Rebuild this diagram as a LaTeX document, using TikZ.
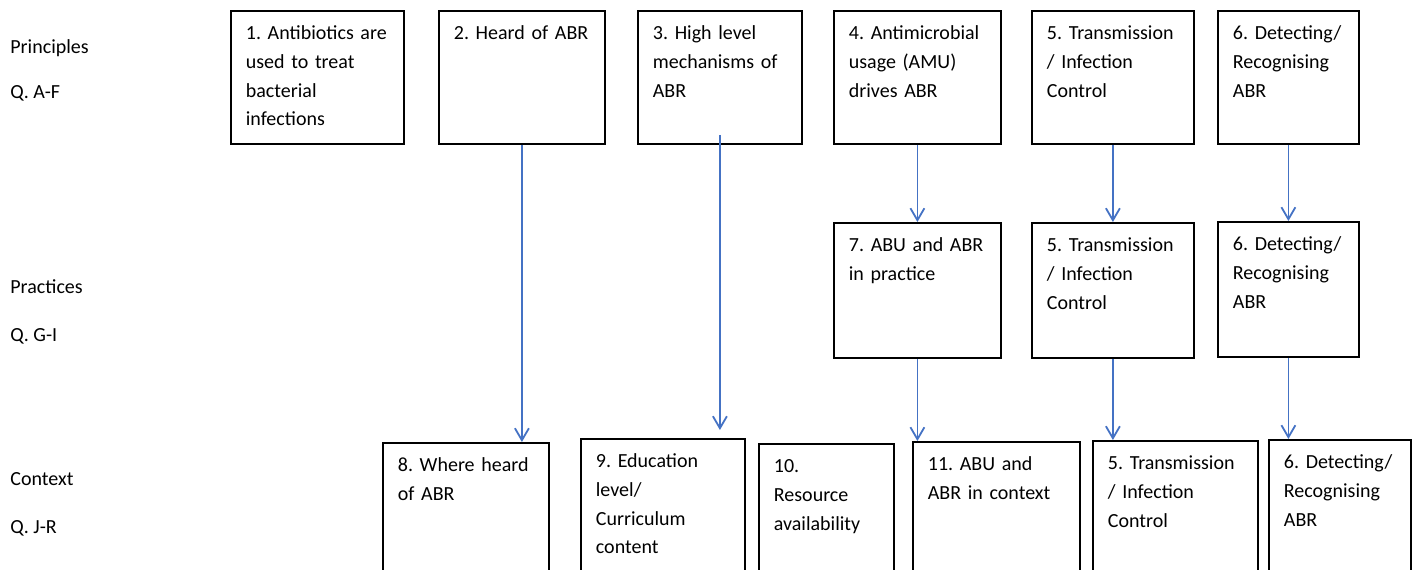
\documentclass[tikz,border=0pt]{standalone}
\usepackage{fontspec}
\setmainfont{Carlito}
\usetikzlibrary{arrows.meta}
\definecolor{linkblue}{RGB}{68,114,196}
\tikzset{
  box/.style={draw, line width=0.9pt, anchor=north west, align=left,
    inner xsep=7.5pt, inner ysep=8pt, text height=6.5pt,
    font=\fontsize{10}{14.3}\selectfont,
    execute at begin node={\frenchspacing\hyphenpenalty=10000
      \rightskip=0pt plus 1fil minus 20pt}},
  rowa/.style={box, text depth=44pt},
  rowb/.style={box, text depth=45pt},
  rowc/.style={box, text depth=60pt},
  rowlabel/.style={anchor=base west, inner sep=0pt, font=\fontsize{10}{12}\selectfont},
  link/.style={linkblue, line width=0.9pt, -{Straight Barb[length=6pt,width=7pt]}}
}
\begin{document}
\begin{tikzpicture}[x=0.5pt, y=-0.5pt]
  \clip (0,0) rectangle (1416,569);
  % row labels
  \node[rowlabel] (lp1) at (10,53) {Principles};
  \node[rowlabel] (lq1) at (10,98) {Q. A-F};
  \node[rowlabel] (lp2) at (10,293) {Practices};
  \node[rowlabel] (lq2) at (10,341) {Q. G-I};
  \node[rowlabel] (lp3) at (10,485) {Context};
  \node[rowlabel] (lq3) at (10,533) {Q. J-R};

  % principles
  \node[rowa, text width=71.5pt] (b1) at (230,10) {1. Antibiotics are\\used to treat\\bacterial\\infections};
  \node[rowa, text width=68pt] (b2) at (438,10) {2. Heard of ABR};
  \node[rowa, text width=67pt] (b3) at (637,10) {3. High level\\mechanisms of\\ABR};
  \node[rowa, text width=68.5pt] (b4) at (833,10) {4. Antimicrobial\\usage (AMU)\\drives ABR};
  \node[rowa, text width=66pt] (b5) at (1031,10) {5. Transmission\\/ Infection\\Control};
  \node[rowa, text width=55.5pt] (b6) at (1217,10) {6. Detecting/\\Recognising\\ABR};

  % practices
  \node[rowb, text width=68.5pt] (b7) at (833,222) {7. ABU and ABR\\in practice};
  \node[rowb, text width=66pt] (b5b) at (1031,222) {5. Transmission\\/ Infection\\Control};
  \node[rowb, text width=55.5pt] (b6b) at (1217,221) {6. Detecting/\\Recognising\\ABR};

  % context
  \node[rowc, text width=68pt] (b8) at (382,442) {8. Where heard\\of ABR};
  \node[rowc, text width=67pt] (b9) at (580,438) {9. Education\\level/\\Curriculum\\content};
  \node[rowc, text width=52.5pt] (b10) at (758,443) {10.\\Resource\\availability};
  \node[rowc, text width=68.5pt] (b11) at (912,441) {11. ABU and\\ABR in context};
  \node[rowc, text width=67.5pt] (b5c) at (1092,440) {5. Transmission\\/ Infection\\Control};
  \node[rowc, text width=56pt] (b6c) at (1268,439) {6. Detecting/\\Recognising\\ABR};

  \foreach \s/\t in {b2/b8, b4/b7, b5/b5b, b6/b6b, b7/b11, b5b/b5c, b6b/b6c}
    \draw[link] (\s.south) -- (\s.south |- \t.north);
  \draw[link, shorten >=4pt] ([yshift=5pt]b3.south) -- (b3.south |- b9.north);
\end{tikzpicture}
\end{document}
